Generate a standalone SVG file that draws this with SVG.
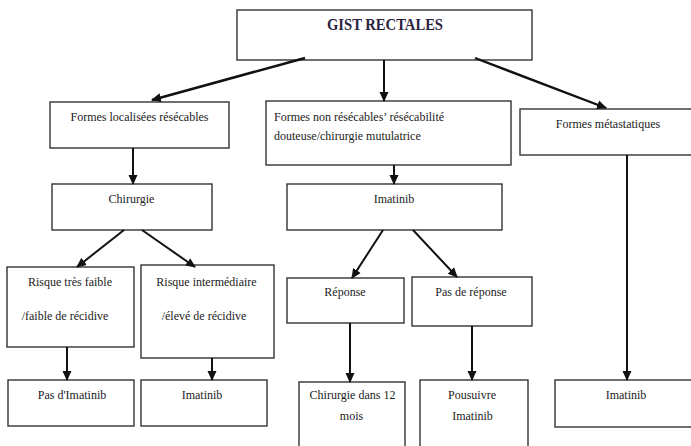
<svg xmlns="http://www.w3.org/2000/svg" width="691" height="446" viewBox="0 0 691 446">
<defs>
<marker id="ah" markerUnits="userSpaceOnUse" markerWidth="10" markerHeight="10" viewBox="0 0 10 10" refX="9" refY="5" orient="auto">
<path d="M0,0.5 L10,5 L0,9.5 Z" fill="#111"/>
</marker>
<style>
rect{fill:#fff;stroke:#333;stroke-width:1.4}
text{font-family:"Liberation Serif","Times New Roman",serif;font-size:12px;fill:#222}
.c{text-anchor:middle}
.t{font-size:16px;font-weight:bold;fill:#2a2340}
#connectors line{stroke:#111;stroke-width:2;marker-end:url(#ah)}
</style>
</defs>
<rect x="0" y="0" width="691" height="446" style="fill:#fff;stroke:none"/>
<g id="n-gist"><rect x="237" y="10" width="295" height="50"/><text class="t" x="327" y="30" textLength="116" lengthAdjust="spacingAndGlyphs">GIST RECTALES</text></g>
<g id="n-localisees"><rect x="50" y="102" width="179" height="46"/><text class="c" x="139.5" y="121">Formes localisées résécables</text></g>
<g id="n-nonresecables"><rect x="266" y="101" width="245" height="64"/><text x="274" y="121">Formes non résécables’ résécabilité</text><text x="274" y="140">douteuse/chirurgie  mutulatrice</text></g>
<g id="n-metastatiques"><rect x="520" y="109" width="173" height="46"/><text class="c" x="608" y="128">Formes métastatiques</text></g>
<g id="n-chirurgie"><rect x="52" y="184" width="160" height="46"/><text class="c" x="131.5" y="203">Chirurgie</text></g>
<g id="n-imatinib1"><rect x="287" y="184" width="215" height="46"/><text class="c" x="394" y="203">Imatinib</text></g>
<g id="n-risque-faible"><rect x="7" y="267" width="127" height="80"/><text class="c" x="70" y="286">Risque très faible</text><text class="c" x="65" y="320">/faible de récidive</text></g>
<g id="n-risque-eleve"><rect x="141" y="265" width="133" height="93"/><text class="c" x="206.5" y="286">Risque intermédiaire</text><text class="c" x="204" y="320">/élevé  de récidive</text></g>
<g id="n-reponse"><rect x="287" y="278" width="117" height="45"/><text class="c" x="345" y="296">Réponse</text></g>
<g id="n-pasreponse"><rect x="412" y="277" width="120" height="49"/><text class="c" x="471" y="296">Pas de réponse</text></g>
<g id="n-pasimatinib"><rect x="8" y="380" width="126" height="46"/><text class="c" x="72" y="399">Pas d'Imatinib</text></g>
<g id="n-imatinib2"><rect x="141" y="380" width="126" height="46"/><text class="c" x="202" y="399">Imatinib</text></g>
<g id="n-chirurgie12"><rect x="299" y="382" width="106" height="70"/><text class="c" x="352.5" y="399">Chirurgie dans 12</text><text class="c" x="351.5" y="420">mois</text></g>
<g id="n-poursuivre"><rect x="420" y="380" width="108" height="72"/><text class="c" x="472" y="399">Pousuivre</text><text class="c" x="472.5" y="420">Imatinib</text></g>
<g id="n-imatinib3"><rect x="555" y="380" width="138" height="47"/><text class="c" x="626" y="399">Imatinib</text></g>
<g id="connectors">
<line x1="305" y1="58" x2="152" y2="100" style="stroke-width:2.6"/>
<line x1="384" y1="60" x2="384" y2="101"/>
<line x1="475" y1="58" x2="606" y2="108" style="stroke-width:2.4"/>
<line x1="133" y1="148" x2="133" y2="184"/>
<line x1="394" y1="165" x2="394" y2="184"/>
<line x1="627" y1="155" x2="627" y2="380"/>
<line x1="124" y1="230" x2="77" y2="267"/>
<line x1="142" y1="230" x2="195" y2="267"/>
<line x1="67" y1="347" x2="67" y2="380"/>
<line x1="212" y1="358" x2="212" y2="380"/>
<line x1="383" y1="230" x2="352" y2="278"/>
<line x1="413" y1="230" x2="457" y2="277"/>
<line x1="350" y1="323" x2="350" y2="382"/>
<line x1="472" y1="326" x2="472" y2="380"/>
</g>
</svg>
